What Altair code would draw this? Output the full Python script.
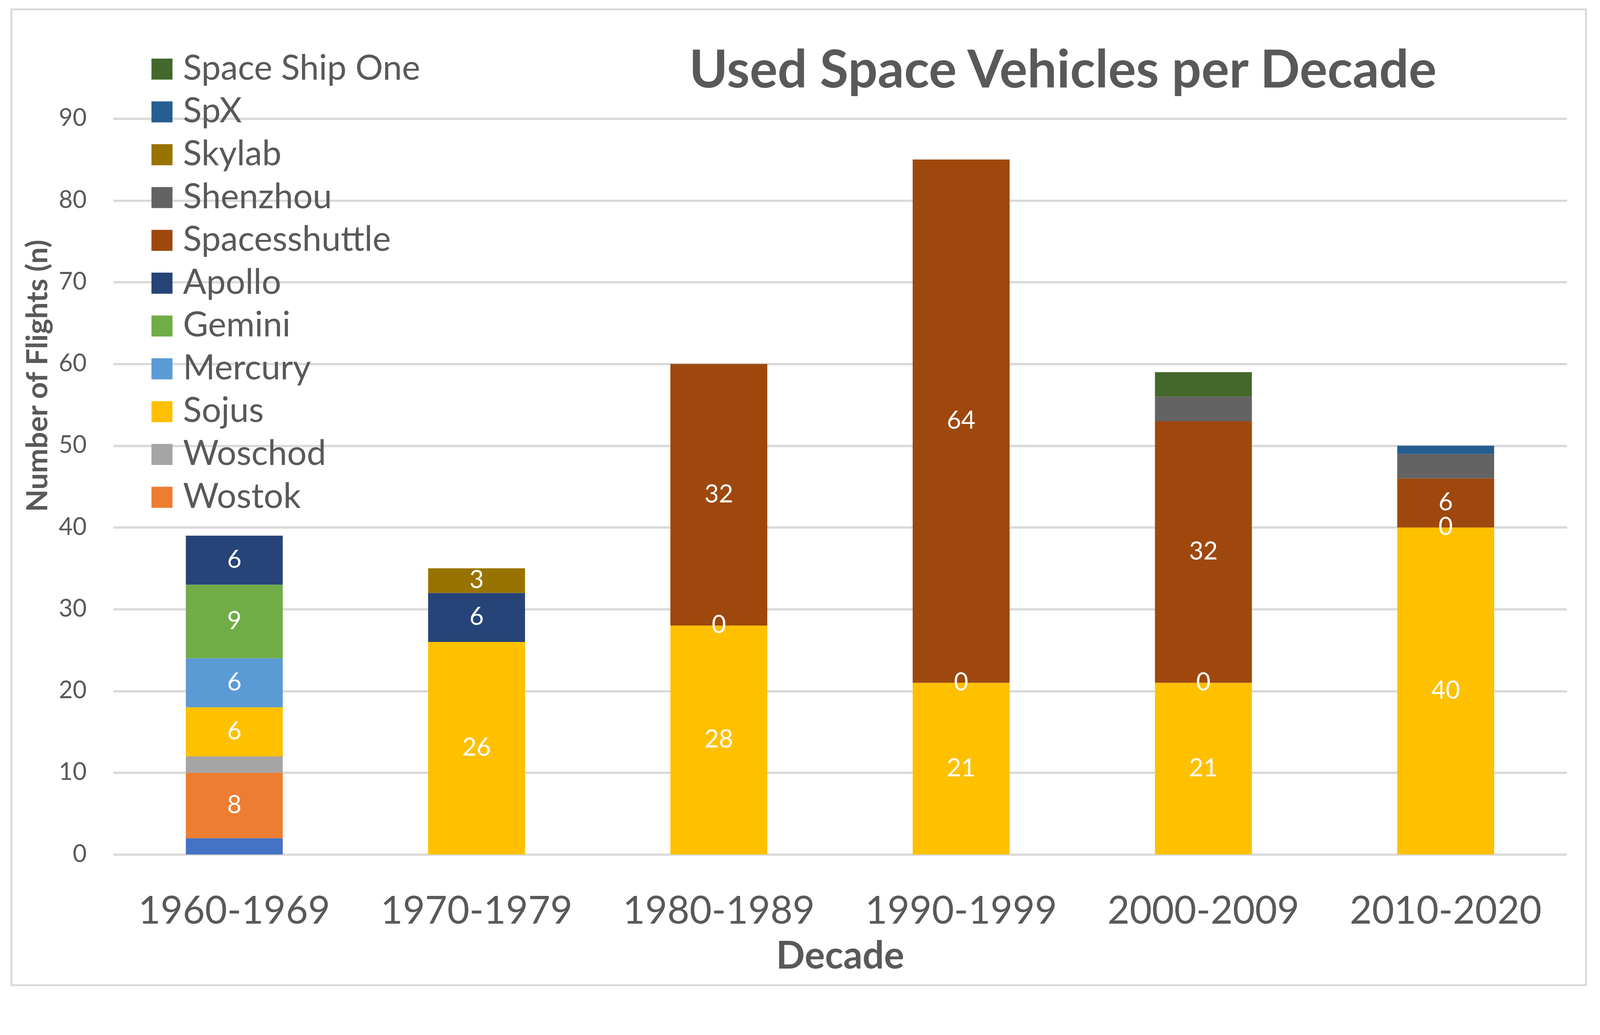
import altair as alt
import pandas as pd

decades = ["1960-1969", "1970-1979", "1980-1989", "1990-1999", "2000-2009", "2010-2020"]

# stacking order, bottom to top
series = ["X-15", "Wostok", "Woschod", "Sojus", "Mercury", "Gemini", "Apollo",
          "Spacesshuttle", "Shenzhou", "Skylab", "SpX", "Space Ship One"]
colors = ["#4472C4", "#ED7D31", "#A5A5A5", "#FFC000", "#5B9BD5", "#70AD47",
          "#264478", "#9E480E", "#636363", "#997300", "#255E91", "#43682B"]

x15 = [2, None, None, None, None, None]
wostok = [8, None, None, None, None, None]
woschod = [2, None, None, None, None, None]
sojus = [6, 26, 28, 21, 21, 40]
mercury = [6, None, None, None, None, None]
gemini = [9, None, None, None, None, None]
apollo = [6, 6, 0, 0, 0, 0]
spacesshuttle = [None, None, 32, 64, 32, 6]
shenzhou = [None, None, None, None, 3, 3]
skylab = [None, 3, None, None, None, None]
spx = [None, None, None, None, None, 1]
space_ship_one = [None, None, None, None, 3, None]

values = [x15, wostok, woschod, sojus, mercury, gemini, apollo,
          spacesshuttle, shenzhou, skylab, spx, space_ship_one]

labeled = ["Wostok", "Sojus", "Mercury", "Gemini", "Apollo", "Spacesshuttle", "Skylab"]

title_text = "Used Space Vehicles per Decade"

rows = []
for i, (s, vals) in enumerate(zip(series, values)):
    for d, v in zip(decades, vals):
        rows.append({"decade": d, "vehicle": s, "idx": i,
                     "value": 0 if v is None else v,
                     "shown": (v is not None) and (s in labeled)})
df = pd.DataFrame(rows)

FONT = "Lato"
TXT = "#595959"
GRID = "#D9D9D9"

W, H = 3871, 1959

xscale = alt.Scale(domain=decades, paddingInner=0.6, paddingOuter=0.3)
yscale = alt.Scale(domain=[0, 90], nice=False, zero=True)

base = alt.Chart(df).transform_stack(
    stack="value", groupby=["decade"], as_=["y0", "y1"],
    sort=[alt.SortField("idx", order="ascending")]
).transform_calculate(mid="(datum.y0 + datum.y1) / 2")

legend_vals = list(reversed(series[1:]))

bars = base.transform_filter("datum.value > 0").mark_bar().encode(
    x=alt.X("decade:N", scale=xscale, sort=decades,
            axis=alt.Axis(title="Decade", labelFontSize=102, labelPadding=103,
                          labelColor=TXT, labelFont=FONT, ticks=False, domain=False,
                          grid=False, labelAngle=0, labelLimit=2000,
                          titleFont=FONT, titleFontSize=101, titleFontWeight="bold",
                          titleColor=TXT, titleBaseline="alphabetic", titleY=303,
                          titleX=W / 2, titleAlign="center")),
    y=alt.Y("y0:Q", scale=yscale,
            axis=alt.Axis(title="Number of Flights (n)", values=list(range(0, 100, 10)),
                          labelFontSize=64, labelPadding=71, labelColor=TXT, labelFont=FONT,
                          ticks=False, domain=False, grid=True, gridColor=GRID, gridWidth=6,
                          titleFont=FONT, titleFontSize=78, titleFontWeight="bold",
                          titleColor=TXT, titleAngle=-90, titleX=-199, titleY=684,
                          titleAlign="center", titleBaseline="middle")),
    y2="y1:Q",
    color=alt.Color("vehicle:N", scale=alt.Scale(domain=series, range=colors),
                    legend=alt.Legend(values=legend_vals, orient="none", legendX=84,
                                      legendY=-178, title=None, symbolType="square",
                                      symbolSize=3136, symbolStrokeWidth=0,
                                      symbolOpacity=1, labelFontSize=92,
                                      labelFont=FONT, labelColor=TXT, labelOffset=10,
                                      rowPadding=22, labelLimit=3000, padding=0)),
    order=alt.Order("idx:Q", sort="ascending"),
)

labels = base.transform_filter("datum.shown").mark_text(
    color="white", font=FONT, fontSize=66, baseline="middle", align="center"
).encode(
    x=alt.X("decade:N", scale=xscale, sort=decades),
    y=alt.Y("mid:Q", scale=yscale),
    text=alt.Text("value:Q"),
)

title = alt.Chart(alt.Data(values=[{"t": title_text}])).mark_text(
    font=FONT, fontSize=139, fontWeight="bold", color=TXT,
    align="center", baseline="alphabetic"
).encode(x=alt.value(2529), y=alt.value(-83), text="t:N")

border = alt.Chart(alt.Data(values=[{}])).mark_rect(
    fill=None, stroke=GRID, strokeWidth=5
).encode(
    x=alt.value(-271), x2=alt.value(3922), y=alt.value(-291), y2=alt.value(2307)
)

chart = alt.layer(border, bars, labels, title).properties(
    width=W, height=H,
    padding={"left": 293, "top": 256, "right": 80, "bottom": 352},
    autosize=alt.AutoSizeParams(type="none"),
    background="white",
).configure_view(stroke=None)

chart.save("out.html", embed_options={"renderer": "svg", "actions": False})
